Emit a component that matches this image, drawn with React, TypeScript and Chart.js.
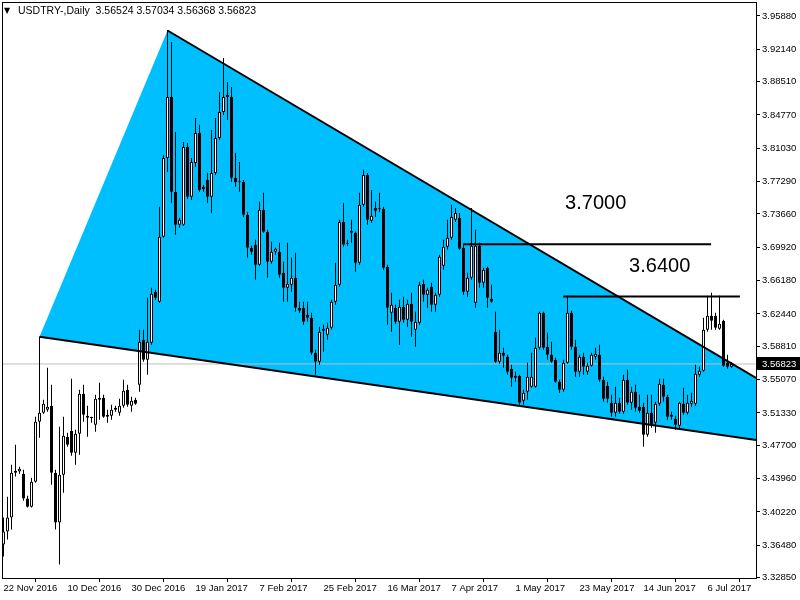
import React, { useEffect, useRef } from 'react';
import { Chart, registerables } from 'chart.js';

Chart.register(...registerables);

const symbol = 'USDTRY-,Daily';

const opens = [
  3.3655, 3.3801, 3.3958, 3.4462, 3.4474, 3.4451, 3.4171, 3.4081, 3.4361, 3.5034,
  3.5135, 3.5169, 3.5214, 3.4462, 3.3902, 3.4440, 3.4866, 3.4933, 3.4687, 3.4900,
  3.5348, 3.5102, 3.5079, 3.5001, 3.5304, 3.5304, 3.5090, 3.5102, 3.5191, 3.5135,
  3.5214, 3.5393, 3.5214, 3.5281, 3.5449, 3.5954, 3.5730, 3.5920, 3.6492, 3.6380,
  3.7109, 3.7995, 3.8679, 3.7614, 3.7244, 3.7244, 3.8118, 3.7558, 3.7939, 3.8275,
  3.7670, 3.7748, 3.7558, 3.7827, 3.8219, 3.8511, 3.8702, 3.8679, 3.7771, 3.7726,
  3.7726, 3.7356, 3.6986, 3.7019, 3.6795, 3.7412, 3.7165, 3.6829, 3.6941, 3.6941,
  3.6705, 3.6537, 3.6571, 3.6649, 3.6313, 3.6313, 3.6234, 3.6201, 3.5808, 3.5707,
  3.6055, 3.6010, 3.6089, 3.6380, 3.6571, 3.7277, 3.7042, 3.7176, 3.7154, 3.6818,
  3.7468, 3.7804, 3.7289, 3.7434, 3.7423, 3.7423, 3.6773, 3.6257, 3.6313, 3.6156,
  3.6324, 3.6178, 3.6358, 3.6066, 3.6145, 3.6582, 3.6459, 3.6548, 3.6346, 3.6459,
  3.6784, 3.6997, 3.7098, 3.7300, 3.7322, 3.6986, 3.6492, 3.6649, 3.6369, 3.7008,
  3.6593, 3.6761, 3.6414, 3.6044, 3.5707, 3.5808, 3.5763, 3.5629, 3.5528, 3.5550,
  3.5270, 3.5371, 3.5427, 3.5427, 3.5864, 3.6257, 3.5875, 3.5786, 3.5730, 3.5483,
  3.5393, 3.5696, 3.6257, 3.5875, 3.5595, 3.5763, 3.5595, 3.5662, 3.5763, 3.5786,
  3.5505, 3.5438, 3.5247, 3.5135, 3.5247, 3.5146, 3.5505, 3.5247, 3.5371, 3.5203,
  3.5203, 3.4889, 3.5135, 3.5023, 3.5236, 3.5449, 3.5315, 3.5113, 3.5068, 3.4989,
  3.5236, 3.5135, 3.5236, 3.5236, 3.5561, 3.5606, 3.6066, 3.6223, 3.6223, 3.6077,
  3.6167, 3.5696, 3.56524,
];

const highs = [
  3.3958, 3.4193, 3.4552, 3.4776, 3.4530, 3.4496, 3.4204, 3.4406, 3.5090, 3.5988,
  3.5281, 3.5640, 3.5449, 3.4496, 3.4978, 3.5090, 3.4911, 3.5517, 3.4945, 3.5393,
  3.5449, 3.5214, 3.5090, 3.5337, 3.5472, 3.5337, 3.5169, 3.5225, 3.5214, 3.5292,
  3.5505, 3.5449, 3.5315, 3.5304, 3.6066, 3.6066, 3.6425, 3.6537, 3.6515, 3.7446,
  3.8029, 3.9431, 3.9296, 3.8287, 3.7322, 3.8175, 3.8163, 3.7995, 3.8444, 3.8365,
  3.7692, 3.7827, 3.8309, 3.8444, 3.8735, 3.9117, 3.8847, 3.8791, 3.8051, 3.7950,
  3.7748, 3.7389, 3.7008, 3.7076, 3.7502, 3.7603, 3.7188, 3.7053, 3.6986, 3.7042,
  3.6829, 3.7042, 3.6874, 3.6930, 3.6380, 3.6380, 3.6380, 3.6257, 3.5842, 3.6100,
  3.6122, 3.6145, 3.6403, 3.6818, 3.7300, 3.7490, 3.7076, 3.7300, 3.7165, 3.7603,
  3.7861, 3.7827, 3.7636, 3.7502, 3.7603, 3.7446, 3.6795, 3.6481, 3.6346, 3.6403,
  3.6436, 3.6403, 3.6481, 3.6268, 3.6604, 3.6627, 3.6537, 3.6593, 3.6481, 3.6907,
  3.7076, 3.7300, 3.7468, 3.7434, 3.7378, 3.7019, 3.6705, 3.7434, 3.7188, 3.7042,
  3.6761, 3.6773, 3.6571, 3.6268, 3.6066, 3.5864, 3.5786, 3.5674, 3.5595, 3.5561,
  3.5393, 3.5696, 3.5808, 3.5976, 3.6268, 3.6268, 3.6033, 3.5932, 3.5752, 3.5505,
  3.5730, 3.6436, 3.6279, 3.5954, 3.5786, 3.5808, 3.5696, 3.5808, 3.5864, 3.5898,
  3.5539, 3.5483, 3.5337, 3.5427, 3.5304, 3.5561, 3.5618, 3.5427, 3.5449, 3.5337,
  3.5247, 3.5337, 3.5337, 3.5259, 3.5517, 3.5517, 3.5337, 3.5146, 3.5102, 3.5259,
  3.5416, 3.5337, 3.5360, 3.5674, 3.5651, 3.6201, 3.6447, 3.6481, 3.6257, 3.6447,
  3.6178, 3.5786, 3.57034,
];

const lows = [
  3.3520, 3.3711, 3.3823, 3.4418, 3.4451, 3.4148, 3.4070, 3.4070, 3.4350, 3.4855,
  3.5124, 3.5146, 3.4328, 3.3823, 3.3431, 3.4238, 3.4754, 3.4653, 3.4552, 3.4664,
  3.5034, 3.4866, 3.5023, 3.4922, 3.5057, 3.5079, 3.5023, 3.5057, 3.5146, 3.5102,
  3.5191, 3.5203, 3.5146, 3.5225, 3.5371, 3.5707, 3.5561, 3.5898, 3.6403, 3.6369,
  3.7098, 3.7838, 3.7490, 3.7132, 3.7210, 3.7232, 3.7535, 3.7524, 3.7894, 3.7614,
  3.7614, 3.7490, 3.7378, 3.7804, 3.8197, 3.8477, 3.8421, 3.7726, 3.7670, 3.7614,
  3.7333, 3.6874, 3.6907, 3.6627, 3.6784, 3.7154, 3.6649, 3.6806, 3.6907, 3.6649,
  3.6380, 3.6380, 3.6492, 3.6268, 3.6257, 3.6122, 3.6156, 3.5786, 3.5561, 3.5674,
  3.5819, 3.5954, 3.6066, 3.6346, 3.6548, 3.6997, 3.7008, 3.7042, 3.6717, 3.6795,
  3.7446, 3.7244, 3.7266, 3.7333, 3.7389, 3.6739, 3.6122, 3.6044, 3.6133, 3.5898,
  3.6145, 3.6100, 3.5988, 3.5875, 3.6122, 3.6380, 3.6313, 3.6268, 3.6268, 3.6436,
  3.6739, 3.6963, 3.7076, 3.7277, 3.6963, 3.6459, 3.6436, 3.6627, 3.6313, 3.6537,
  3.6537, 3.6313, 3.6369, 3.5696, 3.5685, 3.5640, 3.5561, 3.5427, 3.5483, 3.5225,
  3.5225, 3.5281, 3.5416, 3.5416, 3.5842, 3.5842, 3.5730, 3.5696, 3.5472, 3.5360,
  3.5371, 3.5685, 3.5842, 3.5539, 3.5539, 3.5561, 3.5561, 3.5651, 3.5730, 3.5483,
  3.5259, 3.5247, 3.5090, 3.5090, 3.5124, 3.5124, 3.5225, 3.5169, 3.5146, 3.5135,
  3.4754, 3.4866, 3.4967, 3.4911, 3.5214, 3.5259, 3.5057, 3.5057, 3.4945, 3.4945,
  3.5113, 3.5113, 3.5203, 3.5214, 3.5539, 3.5595, 3.6044, 3.6066, 3.6066, 3.6066,
  3.5651, 3.5629, 3.56368,
];

const closes = [
  3.3801, 3.3958, 3.4462, 3.4485, 3.4507, 3.4171, 3.4081, 3.4361, 3.5034, 3.5135,
  3.5236, 3.5203, 3.4462, 3.3902, 3.4440, 3.4877, 3.4776, 3.4687, 3.4900, 3.5348,
  3.5113, 3.5079, 3.5075, 3.5292, 3.5281, 3.5090, 3.5113, 3.5169, 3.5169, 3.5214,
  3.5382, 3.5225, 3.5270, 3.5236, 3.5932, 3.5730, 3.5932, 3.6470, 3.6425, 3.7109,
  3.7995, 3.8679, 3.7614, 3.7244, 3.7300, 3.8118, 3.7558, 3.7950, 3.8275, 3.7636,
  3.7647, 3.7558, 3.7827, 3.8219, 3.8511, 3.8679, 3.8679, 3.7771, 3.7726, 3.7721,
  3.7356, 3.6986, 3.6941, 3.6795, 3.7412, 3.7165, 3.6829, 3.6941, 3.6975, 3.6683,
  3.6537, 3.6582, 3.6649, 3.6313, 3.6279, 3.6156, 3.6201, 3.5808, 3.5707, 3.6044,
  3.6077, 3.6089, 3.6380, 3.6571, 3.7277, 3.7019, 3.7031, 3.7154, 3.6818, 3.7468,
  3.7804, 3.7300, 3.7345, 3.7401, 3.7419, 3.6761, 3.6313, 3.6346, 3.6156, 3.6324,
  3.6178, 3.6358, 3.6156, 3.6156, 3.6571, 3.6459, 3.6515, 3.6346, 3.6459, 3.6885,
  3.6997, 3.7098, 3.7333, 3.7378, 3.6975, 3.6492, 3.6649, 3.7008, 3.7008, 3.6593,
  3.6739, 3.6425, 3.6380, 3.5707, 3.5808, 3.5775, 3.5595, 3.5528, 3.5550, 3.5247,
  3.5360, 3.5539, 3.5539, 3.5864, 3.6257, 3.5864, 3.5786, 3.5707, 3.5483, 3.5393,
  3.5696, 3.6257, 3.5875, 3.5595, 3.5763, 3.5651, 3.5662, 3.5786, 3.5797, 3.5505,
  3.5292, 3.5292, 3.5135, 3.5247, 3.5146, 3.5505, 3.5247, 3.5371, 3.5191, 3.5158,
  3.4889, 3.5135, 3.5001, 3.5236, 3.5461, 3.5315, 3.5090, 3.5090, 3.5001, 3.5247,
  3.5135, 3.5247, 3.5270, 3.5573, 3.5606, 3.6066, 3.6223, 3.6167, 3.6089, 3.6133,
  3.5662, 3.5651, 3.56823,
];

const dateTickIdx = [0, 16, 32, 48, 64, 80, 96, 112, 128, 144, 160, 176];
const dateTickLabels = [
  '22 Nov 2016', '10 Dec 2016', '30 Dec 2016', '19 Jan 2017', '7 Feb 2017', '25 Feb 2017',
  '16 Mar 2017', '7 Apr 2017', '1 May 2017', '23 May 2017', '14 Jun 2017', '6 Jul 2017',
];

const priceTicks = [
  3.9588, 3.9214, 3.8851, 3.8477, 3.8103, 3.7729, 3.7366, 3.6992, 3.6618,
  3.6244, 3.5881, 3.5507, 3.5133, 3.4770, 3.4396, 3.4022, 3.3648, 3.3285,
];

// triangle object: left vertex, apex, upper-right end, lower-right end
const triangleIdx = [9, 41, 188.125, 188.125];
const trianglePrice = [3.5988, 3.9425, 3.5525, 3.4829];

// horizontal levels
const levelPrices = [3.7025, 3.6440];
const levelFrom = [114.9, 139.9];
const levelTo = [176.9, 184.1];
const levelText = ['3.7000', '3.6400'];
const levelTextIdx = [140.4, 156.4];
const levelTextPrice = [3.7489, 3.6782];

const X_MIN = -0.375;
const X_MAX = 188.125;
const Y_MIN = 3.328;
const Y_MAX = 3.9745;

const AXIS_FONT = 'Liberation Sans';

export default function App() {
  const ref = useRef<HTMLCanvasElement | null>(null);

  useEffect(() => {
    const canvas = ref.current;
    if (!canvas) return;
    const n = opens.length;
    const last = n - 1;

    const wickData = opens.map((_, i) => ({ x: i, y: [lows[i], highs[i]] }));
    const bodyData = opens.map((o, i) => {
      const c = closes[i];
      const lo = Math.min(o, c);
      const hi = Math.max(Math.max(o, c), lo + 0.0011);
      return { x: i, y: [lo, hi] };
    });
    const bodyColors = opens.map((o, i) => {
      const c = closes[i];
      const small = Math.abs(c - o) < 0.0025;
      return c >= o && !small ? '#ffffff' : '#000000';
    });

    const pt = (k: number) => ({ x: triangleIdx[k], y: trianglePrice[k] });

    const decor = {
      id: 'decor',
      afterDatasetsDraw(chart: any) {
        const ctx = chart.ctx;
        const xs = chart.scales.x;
        const ys = chart.scales.y;
        ctx.save();
        ctx.fillStyle = '#000';
        ctx.font = `20px "${AXIS_FONT}"`;
        ctx.textAlign = 'left';
        ctx.textBaseline = 'middle';
        levelText.forEach((t, k) => {
          ctx.fillText(t, xs.getPixelForValue(levelTextIdx[k]), ys.getPixelForValue(levelTextPrice[k]));
        });
        ctx.restore();
      },
      afterDraw(chart: any) {
        const ctx = chart.ctx;
        const a = chart.chartArea;
        const ys = chart.scales.y;
        ctx.save();
        // frame
        ctx.strokeStyle = '#000';
        ctx.lineWidth = 1;
        ctx.strokeRect(a.left + 0.5, a.top + 0.5, a.right - a.left, a.bottom - a.top);
        // header
        ctx.fillStyle = '#000';
        ctx.textBaseline = 'middle';
        ctx.textAlign = 'left';
        ctx.font = '8px "DejaVu Sans"';
        ctx.fillText('▼', 4, 11);
        ctx.font = `10.5px "${AXIS_FONT}"`;
        const hdr = `${symbol}  ${opens[last].toFixed(5)} ${highs[last].toFixed(5)} ${lows[last].toFixed(5)} ${closes[last].toFixed(5)}`;
        ctx.fillText(hdr, 18, 11);
        // last price label
        const y = Math.round(ys.getPixelForValue(closes[last]));
        ctx.fillStyle = '#000';
        ctx.fillRect(a.right + 1, y - 7, 800 - a.right - 1, 13);
        ctx.fillStyle = '#fff';
        ctx.font = `9.5px "${AXIS_FONT}"`;
        ctx.fillText(closes[last].toFixed(5), a.right + 6, y);
        ctx.restore();
      },
    };

    const chart = new Chart(canvas, {
      type: 'bar',
      data: {
        datasets: [
          {
            type: 'line',
            data: [pt(0), pt(1), pt(2), pt(3), pt(0)],
            fill: 'shape',
            backgroundColor: '#00BFFF',
            borderWidth: 0,
            borderColor: 'rgba(0,0,0,0)',
            pointRadius: 0,
            tension: 0,
            order: 10,
          } as any,
          {
            type: 'line',
            data: [{ x: X_MIN, y: closes[last] }, { x: X_MAX, y: closes[last] }],
            borderColor: '#C0C0C0',
            borderWidth: 1,
            pointRadius: 0,
            fill: false,
            order: 8,
          } as any,
          {
            type: 'bar',
            data: wickData,
            backgroundColor: '#000',
            borderWidth: 0,
            barThickness: 1,
            grouped: false,
            inflateAmount: 0,
            order: 6,
          } as any,
          {
            type: 'bar',
            data: bodyData,
            backgroundColor: bodyColors,
            borderColor: '#000',
            borderWidth: 1,
            borderSkipped: false,
            barThickness: 3,
            grouped: false,
            inflateAmount: 0,
            order: 5,
          } as any,
          {
            type: 'line',
            data: [pt(1), pt(2)],
            borderColor: '#000',
            borderWidth: 2,
            pointRadius: 0,
            fill: false,
            order: 2,
          } as any,
          {
            type: 'line',
            data: [pt(0), pt(3)],
            borderColor: '#000',
            borderWidth: 2,
            pointRadius: 0,
            fill: false,
            order: 2,
          } as any,
          ...levelPrices.map((p, k) => ({
            type: 'line',
            data: [{ x: levelFrom[k], y: p }, { x: levelTo[k], y: p }],
            borderColor: '#000',
            borderWidth: 2,
            pointRadius: 0,
            fill: false,
            order: 1,
          } as any)),
        ],
      },
      options: {
        animation: false,
        responsive: false,
        maintainAspectRatio: false,
        devicePixelRatio: 1,
        layout: { padding: { left: 2, top: 2, right: 0, bottom: 0 } },
        plugins: {
          legend: { display: false },
          tooltip: { enabled: false },
          title: { display: false },
        },
        scales: {
          x: {
            type: 'linear',
            min: X_MIN,
            max: X_MAX,
            offset: false,
            afterBuildTicks: (s: any) => {
              s.ticks = dateTickIdx.map((v) => ({ value: v }));
            },
            afterFit: (s: any) => {
              s.height = 22;
              s.paddingLeft = 0;
              s.paddingRight = 0;
            },
            ticks: {
              callback: (_v: any, idx: number) => dateTickLabels[idx],
              align: 'start',
              maxRotation: 0,
              minRotation: 0,
              autoSkip: false,
              padding: 1,
              color: '#000',
              font: { family: AXIS_FONT, size: 9.5 },
            },
            grid: {
              display: true,
              drawOnChartArea: false,
              drawTicks: true,
              tickLength: 4,
              color: '#000',
            },
            border: { display: false },
          },
          y: {
            type: 'linear',
            position: 'right',
            min: Y_MIN,
            max: Y_MAX,
            beginAtZero: false,
            afterBuildTicks: (s: any) => {
              s.ticks = priceTicks.map((v) => ({ value: v }));
            },
            afterFit: (s: any) => {
              s.width = 44;
              s.paddingTop = 0;
              s.paddingBottom = 0;
            },
            ticks: {
              callback: (v: any) => Number(v).toFixed(5),
              autoSkip: false,
              padding: 2,
              color: '#000',
              font: { family: AXIS_FONT, size: 9.5 },
            },
            grid: {
              display: true,
              drawOnChartArea: false,
              drawTicks: true,
              tickLength: 4,
              color: '#000',
            },
            border: { display: false },
          },
        },
      } as any,
      plugins: [decor],
    });

    return () => chart.destroy();
  }, []);

  return (
    <div style={{ position: 'fixed', left: 0, top: 0, width: 800, height: 600, background: '#fff' }}>
      <canvas ref={ref} width={800} height={600} style={{ display: 'block' }} />
    </div>
  );
}
